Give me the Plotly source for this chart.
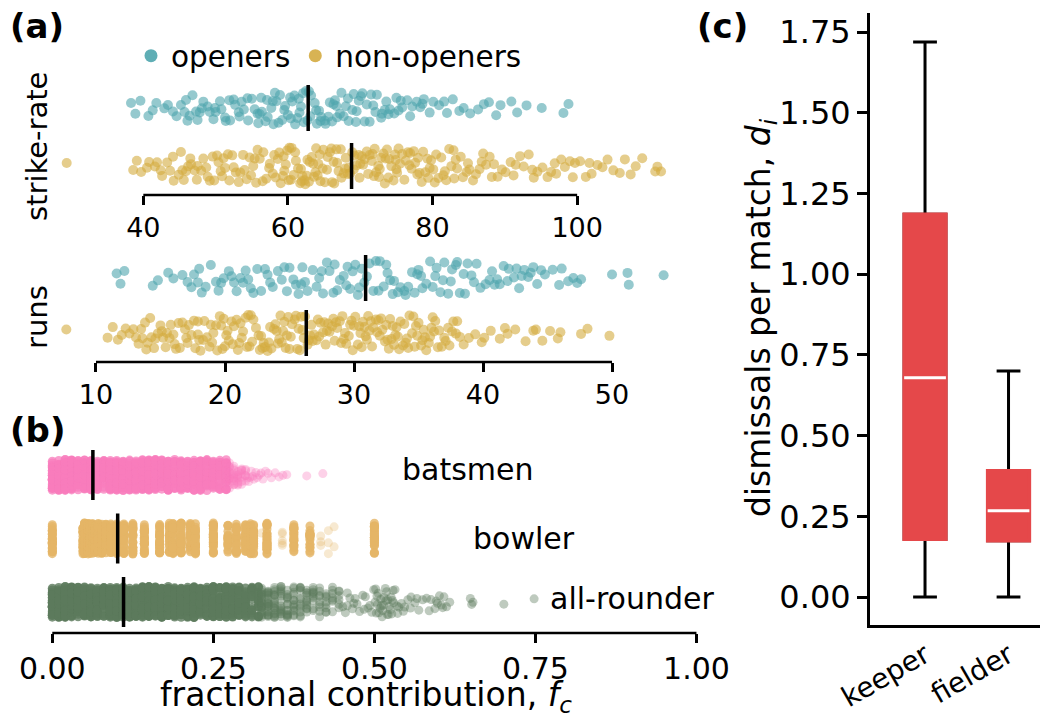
import numpy as np
import plotly.graph_objects as go

W, H = 1045, 715

# ---------------- data ----------------
# (a) strike-rate
sr_open = [38.3, 38.9, 39.6, 40.7, 41.3, 41.8, 42.9, 43.4, 44.1, 44.6,
           45.2, 45.7, 45.9, 46.4, 46.8, 47.3, 47.5, 48.1, 48.3, 48.9, 49.2, 49.7, 50.0, 50.6, 50.8,
           51.3, 51.4, 52.0, 52.5, 52.7, 53.2, 53.3, 53.9, 54.4, 54.5, 49.9, 47.8, 53.6, 46.1, 51.9,
           55.0, 55.4, 55.8, 55.9, 56.3, 56.4, 56.9, 57.1, 57.2, 57.7, 57.9, 58.2, 58.4, 58.7, 58.9,
           59.2, 59.5, 59.6, 60.0, 60.3, 60.4, 60.9, 61.0, 61.3, 61.6, 61.8, 62.1, 62.2, 62.5, 62.7,
           62.9, 56.1, 58.0, 60.6, 61.5,
           63.1, 63.2, 63.7, 63.9, 64.0, 64.5, 64.6, 65.1, 65.2, 65.6, 65.8, 66.1, 66.3, 66.7, 66.8,
           67.2, 67.4, 67.7, 68.0, 68.3, 68.4, 68.9, 69.1, 69.4, 69.5, 70.1, 70.3, 70.6, 70.9, 71.3,
           71.5, 71.8, 64.3, 66.5, 69.8,
           72.1, 72.3, 72.9, 73.0, 73.6, 73.9, 74.1, 74.7, 75.0, 75.6, 75.8, 76.5, 76.9, 77.2, 77.8,
           78.3, 78.8, 79.6, 80.1, 80.9, 81.6, 82.0, 82.8, 83.7, 84.3, 73.4, 75.3, 78.6,
           85.2, 86.3, 87.1, 87.8, 88.8, 89.4, 90.9, 91.7, 93.0, 95.1, 98.1, 98.8]
sr_non = [29.4,
          38.6, 39.1, 39.7, 40.5, 40.8, 41.6, 41.9, 42.4, 42.6, 43.3, 43.7, 44.1, 44.2, 44.9, 45.2,
          45.6, 45.9, 45.4,
          46.2, 46.5, 46.6, 47.1, 47.4, 47.5, 48.0, 48.3, 48.7, 48.9, 49.2, 49.6, 49.8, 50.2, 50.4,
          50.7, 51.1, 51.3, 51.7, 51.9, 52.3, 52.5, 52.8, 53.2, 53.4, 53.8, 54.0, 54.3, 54.7, 54.9,
          55.2, 55.6, 55.8, 56.1, 56.5, 56.6, 57.0, 57.4, 57.5, 57.9, 50.9, 55.4,
          58.1, 58.3, 58.6, 58.8, 59.0, 59.3, 59.4, 59.7, 59.9, 60.1, 60.4, 60.5, 60.8, 61.0, 61.1,
          61.4, 61.7, 61.8, 62.0, 62.3, 62.4, 62.7, 62.9, 63.0, 63.3, 63.5, 63.6, 63.9, 64.1, 64.2,
          64.5, 64.8, 64.9, 65.1, 65.4, 65.5, 65.8, 66.0, 66.1, 66.4, 66.7, 66.8, 67.0, 67.3, 67.4,
          67.7, 67.9, 68.0, 68.3, 68.4, 68.6, 68.9, 60.2, 62.6, 64.4, 66.3, 59.5, 61.9, 63.8,
          69.1, 69.2, 69.5, 69.8, 69.9, 70.2, 70.4, 70.6, 70.9, 71.1, 71.3, 71.6, 71.7, 72.0, 72.2,
          72.5, 72.7, 72.9, 73.2, 73.4, 73.7, 73.9, 74.0, 74.3, 74.6, 74.8, 75.1, 75.3, 75.5, 75.8,
          76.1, 76.3, 76.6, 76.8, 77.1, 77.4, 77.6, 77.9, 78.2, 78.5, 78.7, 79.0, 79.3, 79.6, 79.8,
          70.0, 71.9, 73.5, 75.0, 76.9, 78.0, 79.4, 72.6, 74.9,
          80.1, 80.5, 80.8, 81.2, 81.5, 81.9, 82.3, 82.6, 83.0, 83.4, 83.9, 84.2, 84.7, 85.1, 85.6,
          86.0, 86.5, 87.0, 87.4, 87.9, 88.5, 89.0, 89.6, 81.7, 83.2, 84.9, 86.8, 88.2, 80.3, 82.9,
          90.1, 90.8, 91.5, 92.1, 92.6, 93.3, 94.0, 94.5, 95.2, 95.9, 96.4, 97.1, 97.8, 98.3, 99.0,
          99.7, 100.4, 101.2, 102.0, 102.8, 103.5, 91.2, 93.8, 96.9, 99.4, 101.7,
          104.2, 105.0, 105.9, 106.6, 107.4, 108.1, 109.0, 110.8, 111.1, 111.6]
sr_med = [62.8, 68.8]          # openers, non-openers

# (a) runs
runs_open = [11.6, 11.9, 12.2, 14.4, 14.8, 15.6, 16.0,
             16.7, 17.1, 17.4, 17.9, 18.2, 18.5, 18.9, 19.3, 19.5, 19.9, 20.3, 20.5, 20.9, 21.2,
             21.6, 21.8, 22.2, 22.5, 22.8, 23.1, 23.5, 23.7, 24.1, 24.4, 24.6, 25.0, 25.3, 25.5,
             25.9, 26.2, 26.4, 26.8, 27.1, 27.3, 27.6, 27.9, 28.1, 28.4, 28.7, 28.9, 29.2, 29.4,
             29.7, 29.9, 30.1, 30.3, 30.6, 30.8,
             18.0, 20.7, 22.0, 23.3, 24.8, 26.0, 27.5, 28.5, 29.5, 30.4, 19.7, 25.7, 21.4, 17.6,
             31.0, 31.2, 31.5, 31.7, 32.0, 32.3, 32.5, 32.8, 33.1, 33.4, 33.6, 33.9, 34.2, 34.5,
             34.7, 35.0, 35.3, 35.6, 35.9, 36.1, 36.4, 36.7, 37.0, 37.3, 37.6, 37.9, 38.2, 38.5,
             38.8, 39.1, 39.5, 39.8, 40.2, 40.5, 40.9, 41.3, 41.6, 42.0, 42.4, 42.8, 43.2, 43.7,
             31.9, 33.0, 34.0, 35.2, 36.3, 37.5, 38.0, 39.3, 40.7, 41.9, 42.6, 32.6, 34.9, 36.9,
             38.6, 41.1, 43.0,
             44.2, 44.8, 45.4, 46.1, 46.6, 47.3, 47.6, 50.0, 51.2, 51.3, 54.0, 45.9, 43.9, 44.5,
             47.0, 43.5]
runs_non = [7.7, 10.9, 11.3, 11.7, 12.0, 12.3, 12.6, 12.9,
            13.1, 13.3, 13.6, 13.8, 14.0, 14.3, 14.5, 14.8, 15.0, 15.2, 15.5, 15.7, 16.0, 16.2,
            16.5, 16.7, 17.0, 17.2, 17.4, 17.7, 17.9, 18.1, 18.4, 18.6, 18.9, 19.1, 19.3, 19.6,
            19.8, 20.0, 20.3, 20.5, 20.7, 21.0, 21.2, 21.4, 21.7, 21.9, 22.1, 22.4, 22.6, 22.8,
            23.1, 23.3, 23.5, 23.8, 24.0, 24.2, 24.5, 24.7, 24.9, 25.2, 25.4, 25.6, 25.9, 26.1,
            13.9, 15.4, 16.9, 18.3, 19.4, 20.9, 22.2, 23.6, 24.8, 25.8, 14.6, 17.6, 20.2, 23.0,
            25.1, 16.1, 19.9, 21.6, 24.4, 26.0, 15.8, 18.8, 21.3, 22.9, 24.1, 17.1, 20.6, 23.9,
            25.5, 19.0, 22.0, 14.2, 18.0, 21.8, 24.6, 26.2, 16.4, 20.1, 23.4, 25.7, 13.5, 17.9,
            22.7, 25.0, 19.7, 21.1, 15.1, 24.3,
            26.4, 26.6, 26.9, 27.1, 27.3, 27.6, 27.8, 28.0, 28.3, 28.5, 28.7, 29.0, 29.2, 29.4,
            29.7, 29.9, 30.1, 30.4, 30.6, 30.8, 31.1, 31.3, 31.5, 31.8, 32.0, 32.2, 32.5, 32.7,
            32.9, 33.2, 33.4, 33.6, 33.9, 34.1, 34.3, 34.6, 34.8, 35.0, 35.3, 35.5, 35.8, 36.0,
            36.3, 36.5, 36.8, 37.0, 37.3, 37.6, 37.9, 38.2,
            26.7, 27.4, 28.1, 28.9, 29.6, 30.3, 31.0, 31.7, 32.4, 33.1, 33.8, 34.5, 35.2, 35.9,
            36.6, 37.4, 26.5, 27.9, 29.3, 30.7, 32.1, 33.5, 34.9, 36.2, 37.7, 27.2, 28.6, 30.0,
            31.4, 32.8, 34.2, 35.6, 37.1, 27.7, 29.1, 30.5, 31.9, 33.3, 34.7, 36.1, 28.4, 29.8,
            31.2, 32.6, 34.0, 35.4, 38.0, 26.8, 30.9, 33.0,
            38.5, 38.9, 39.4, 39.9, 40.6, 41.3, 41.7, 42.5, 43.3, 44.1, 44.6, 45.2, 46.0, 47.6,
            48.1, 49.8, 40.1, 41.9, 43.9, 45.8]
runs_med = [30.9, 26.3]

# (b) fractional contribution
# dense core as value/count pairs, fuzzy fringe as value/count pairs, sparse tail as single values
bat_vals = [0.00, 0.01, 0.02, 0.03, 0.04, 0.05, 0.06, 0.07, 0.08, 0.09, 0.10, 0.11, 0.12,
            0.13, 0.14, 0.15, 0.16, 0.17, 0.18, 0.19, 0.20, 0.21, 0.22, 0.23, 0.24, 0.25,
            0.26, 0.27]
bat_counts = [26, 30, 32, 32, 32, 32, 32, 32, 31, 31, 30, 30, 30, 30, 29, 29, 28, 28, 28, 27,
              27, 26, 26, 25, 24, 23, 22, 20]
bat_fringe_vals = [0.275, 0.282, 0.288, 0.294, 0.300]
bat_fringe_counts = [12, 10, 8, 7, 5]
bat_tail = [0.303, 0.305, 0.307, 0.309, 0.311, 0.313, 0.316, 0.318, 0.321, 0.324, 0.327,
            0.331, 0.335, 0.340, 0.346, 0.352, 0.358, 0.364, 0.395, 0.420]

bowl_vals = [0.0, 0.0476, 0.05, 0.0556, 0.0588, 0.0625, 0.0667, 0.0714, 0.0769, 0.0833,
             0.0909, 0.1, 0.1111, 0.125, 0.1429, 0.1667, 0.1818, 0.1875, 0.2, 0.2143, 0.2222,
             0.25, 0.2727, 0.2857, 0.3, 0.3077, 0.3125, 0.3333, 0.375, 0.4, 0.5]
bowl_counts = [30, 20, 30, 25, 20, 30, 25, 30, 25, 30, 22, 30, 28, 30, 30, 30, 20, 25, 30, 20,
               25, 30, 18, 28, 25, 18, 22, 28, 22, 18, 28]
bowl_rare = [0.3571, 0.3571, 0.3571, 0.3571, 0.3571, 0.4167, 0.4167, 0.4167, 0.4286,
             0.4286, 0.4286, 0.4375, 0.4375, 0.4, 0.4, 0.325]

all_vals = [0.00, 0.01, 0.02, 0.03, 0.04, 0.05, 0.06, 0.07, 0.08, 0.09, 0.10, 0.11, 0.12,
            0.13, 0.14, 0.15, 0.16, 0.17, 0.18, 0.19, 0.20, 0.21, 0.22, 0.23, 0.24, 0.25,
            0.26, 0.27, 0.28, 0.29, 0.30, 0.31, 0.32]
all_counts = [28, 32, 32, 32, 32, 32, 32, 32, 32, 32, 32, 32, 32, 32, 32, 32, 31, 31, 31, 30,
              30, 30, 29, 29, 28, 28, 27, 26, 24, 22, 19, 16, 13]
all_fringe_vals = [0.325, 0.335, 0.345, 0.355, 0.365, 0.375, 0.385, 0.395, 0.405, 0.415,
                   0.425, 0.435, 0.445]
all_fringe_counts = [22, 20, 18, 16, 14, 13, 12, 11, 10, 9, 8, 7, 6]
all_tail = [0.451, 0.455, 0.458, 0.462, 0.466, 0.470, 0.473, 0.477, 0.482, 0.486,
            0.490, 0.493, 0.496, 0.499, 0.501, 0.503, 0.505, 0.507, 0.509, 0.511, 0.513,
            0.515, 0.517, 0.519, 0.521, 0.523, 0.525, 0.527, 0.529, 0.532, 0.535, 0.538,
            0.542, 0.547, 0.552, 0.557, 0.563, 0.569, 0.575, 0.581, 0.588, 0.594, 0.598,
            0.601, 0.604, 0.608, 0.612, 0.617, 0.649, 0.651, 0.653, 0.701, 0.748,
            0.502, 0.506, 0.510, 0.514, 0.518, 0.522, 0.526, 0.530, 0.458, 0.468, 0.484,
            0.504, 0.512, 0.520, 0.528, 0.536, 0.545, 0.556, 0.566, 0.585, 0.596, 0.606]
fc_med = [0.063, 0.1015, 0.1106]   # batsmen, bowler, all-rounder

# (c) dismissals per match
roles = ["keeper", "fielder"]
d_low = [0.0, 0.0]
d_q1 = [0.179, 0.174]
d_med = [0.679, 0.267]
d_q3 = [1.186, 0.391]
d_high = [1.719, 0.700]

# ---------------- styling ----------------
FONT = "DejaVu Sans"
C_OPEN = "#4ea5ad"
C_NON = "#d4ab40"
C_BAT = "#f87cbc"
C_BOWL = "#e5b566"
C_ALL = "#5c7a5c"
C_BOX = "#e5484a"


def px_x(p):
    return p / W


def px_y(p):
    return 1 - p / H


def strip(vals, pos, color, xa, ya, width, jitter, opacity, size=9):
    return go.Box(x=vals, y0=pos, orientation="h", boxpoints="all", jitter=jitter,
                  pointpos=0, width=width, fillcolor="rgba(0,0,0,0)",
                  line=dict(width=0, color="rgba(0,0,0,0)"),
                  marker=dict(color=color, opacity=opacity, size=size, line=dict(width=0)),
                  hoverinfo="x", showlegend=False, xaxis=xa, yaxis=ya)


def medians(meds, positions, xa, ya, width):
    return go.Box(y=positions, q1=meds, median=meds, q3=meds, lowerfence=meds,
                  upperfence=meds, orientation="h", width=width, whiskerwidth=0,
                  boxpoints=False, fillcolor="rgba(0,0,0,0)",
                  line=dict(color="black", width=3.5), hoverinfo="skip",
                  showlegend=False, xaxis=xa, yaxis=ya)


fig = go.Figure()

# (a) strike-rate
fig.add_trace(strip(sr_open, 1, C_OPEN, "x", "y", 0.79, 0.8, 0.6, 10))
fig.add_trace(strip(sr_non, 0, C_NON, "x", "y", 0.79, 0.8, 0.6, 10))
fig.add_trace(medians(sr_med, [1, 0], "x", "y", 0.79))
# (a) runs
fig.add_trace(strip(runs_open, 1, C_OPEN, "x2", "y2", 0.84, 0.78, 0.6, 10))
fig.add_trace(strip(runs_non, 0, C_NON, "x2", "y2", 0.84, 0.78, 0.6, 10))
fig.add_trace(medians(runs_med, [1, 0], "x2", "y2", 0.84))

# (b)
bat = np.repeat(bat_vals, bat_counts)
bat_light = np.concatenate([np.repeat(bat_fringe_vals, bat_fringe_counts), bat_tail])
bowl = np.repeat(bowl_vals, bowl_counts)
allr = np.repeat(all_vals, all_counts)
all_light = np.concatenate([np.repeat(all_fringe_vals, all_fringe_counts), all_tail])
fig.add_trace(strip(bat, 2, C_BAT, "x3", "y3", 0.79, 0.62, 0.75))
fig.add_trace(strip(bat_light, 2, C_BAT, "x3", "y3", 0.79, 0.62, 0.35))
fig.add_trace(strip(bowl, 1, C_BOWL, "x3", "y3", 0.79, 0.62, 0.8))
fig.add_trace(strip(bowl_rare, 1, C_BOWL, "x3", "y3", 0.79, 0.62, 0.3))
fig.add_trace(strip(allr, 0, C_ALL, "x3", "y3", 0.79, 0.62, 0.8))
fig.add_trace(strip(all_light, 0, C_ALL, "x3", "y3", 0.79, 0.62, 0.4))
fig.add_trace(medians(fc_med, [2, 1, 0], "x3", "y3", 0.79))

# (c) box plot: black whiskers, red box, white median
fig.add_trace(go.Box(x=roles, q1=d_q1, median=d_med, q3=d_q3, lowerfence=d_low,
                     upperfence=d_high, width=0.5, whiskerwidth=0.57, fillcolor=C_BOX,
                     line=dict(color="black", width=3), boxpoints=False,
                     showlegend=False, xaxis="x4", yaxis="y4"))
fig.add_trace(go.Box(x=roles, q1=d_q1, median=d_med, q3=d_q3, lowerfence=d_q1,
                     upperfence=d_q3, width=0.5, whiskerwidth=0, fillcolor=C_BOX,
                     line=dict(color=C_BOX, width=3.5), boxpoints=False,
                     hoverinfo="skip", showlegend=False, xaxis="x4", yaxis="y4"))
fig.add_trace(go.Box(x=roles, q1=d_med, median=d_med, q3=d_med, lowerfence=d_med,
                     upperfence=d_med, width=0.5, whiskerwidth=0,
                     fillcolor="rgba(0,0,0,0)", line=dict(color="white", width=3),
                     boxpoints=False, hoverinfo="skip", showlegend=False,
                     xaxis="x4", yaxis="y4"))

# legend entries
fig.add_trace(go.Scatter(x=[None], y=[None], mode="markers", name="openers",
                         marker=dict(color=C_OPEN, size=13, opacity=0.9)))
fig.add_trace(go.Scatter(x=[None], y=[None], mode="markers", name="non-openers",
                         marker=dict(color=C_NON, size=13, opacity=0.9)))

hidden_y = dict(visible=False, showgrid=False, zeroline=False, automargin=False)
tick_x = dict(showline=False, showgrid=False, zeroline=False, ticks="outside",
              ticklen=9, tickwidth=2.5, tickcolor="black", color="black", automargin=False)

fig.update_layout(
    width=W, height=H,
    margin=dict(l=0, r=0, t=0, b=0, autoexpand=False),
    paper_bgcolor="white", plot_bgcolor="white",
    font=dict(family=FONT, color="black"),
    boxmode="overlay",
    showlegend=True,
    legend=dict(orientation="h", x=px_x(131), y=px_y(56), xanchor="left",
                yanchor="middle", font=dict(size=29.5), bgcolor="rgba(0,0,0,0)",
                itemwidth=30),
    xaxis=dict(domain=[px_x(40), px_x(700)], range=[25.71, 116.99], anchor="y",
               tickvals=[40, 60, 80, 100], tickfont=dict(size=27), **tick_x),
    yaxis=dict(domain=[px_y(195), px_y(70)], range=[-0.5, 1.655], **hidden_y),
    xaxis2=dict(domain=[px_x(40), px_x(700)], range=[5.66, 56.82], anchor="y2",
                tickvals=[10, 20, 30, 40, 50], tickfont=dict(size=27), **tick_x),
    yaxis2=dict(domain=[px_y(362), px_y(240)], range=[-0.527, 1.691], **hidden_y),
    xaxis3=dict(domain=[px_x(40), px_x(715)], range=[-0.0191, 1.0288], anchor="y3",
                tickvals=[0, 0.25, 0.5, 0.75, 1.0], tickformat=".2f",
                tickfont=dict(size=30), **tick_x),
    yaxis3=dict(domain=[px_y(633), px_y(440)], range=[-0.488, 2.551], **hidden_y),
    xaxis4=dict(domain=[px_x(870), px_x(1040)], range=[-0.659, 1.377], anchor="y4",
                type="category", showline=True, linewidth=3, linecolor="black",
                ticks="", tickangle=-30, tickfont=dict(size=28), showgrid=False,
                zeroline=False, automargin=False),
    yaxis4=dict(domain=[px_y(625), px_y(13)], range=[-0.0866, 1.809], anchor="x4",
                showline=True, linewidth=3, linecolor="black", ticks="outside",
                ticklen=10, tickwidth=3, tickcolor="black",
                tickvals=[0, 0.25, 0.5, 0.75, 1.0, 1.25, 1.5, 1.75], tickformat=".2f",
                tickfont=dict(size=32), showgrid=False, zeroline=False, automargin=False),
)

# trimmed spines for (a) and (b)
for xa, lo, hi, ya in [("x", 40, 100, "y"), ("x2", 10, 50, "y2"), ("x3", 0, 1, "y3")]:
    fig.add_shape(type="line", xref=xa, yref=ya + " domain", x0=lo, x1=hi, y0=0, y1=0,
                  line=dict(color="black", width=2.5))

ann = [
    dict(text="<b>(a)</b>", x=px_x(8), y=px_y(26), xanchor="left", size=34),
    dict(text="<b>(b)</b>", x=px_x(8), y=px_y(430), xanchor="left", size=34),
    dict(text="<b>(c)</b>", x=px_x(695), y=px_y(26), xanchor="left", size=34),
    dict(text="batsmen", x=px_x(468), y=px_y(470), xanchor="center", size=30),
    dict(text="bowler", x=px_x(524), y=px_y(538), xanchor="center", size=30),
    dict(text="all-rounder", x=px_x(632), y=px_y(598), xanchor="center", size=30),
    dict(text="fractional contribution, <i>f</i><sub><i>c</i></sub>", x=px_x(366),
         y=px_y(696), xanchor="center", size=33),
]
for a in ann:
    fig.add_annotation(text=a["text"], x=a["x"], y=a["y"], xref="paper", yref="paper",
                       xanchor=a["xanchor"], yanchor="middle", showarrow=False,
                       font=dict(size=a["size"], family=FONT, color="black"))

for text, x, y, size in [("strike-rate", 37, 147, 29), ("runs", 37, 317, 29),
                         ("dismissals per match, <i>d</i><sub><i>i</i></sub>", 760, 318, 33)]:
    fig.add_annotation(text=text, x=px_x(x), y=px_y(y), xref="paper", yref="paper",
                       textangle=-90, xanchor="center", yanchor="middle", showarrow=False,
                       font=dict(size=size, family=FONT, color="black"))

# the page body has a default 8px margin; drop it so the figure fills the window
fig.write_html("out.html", config={"displayModeBar": False},
               post_script="document.body.style.margin='0px';")
